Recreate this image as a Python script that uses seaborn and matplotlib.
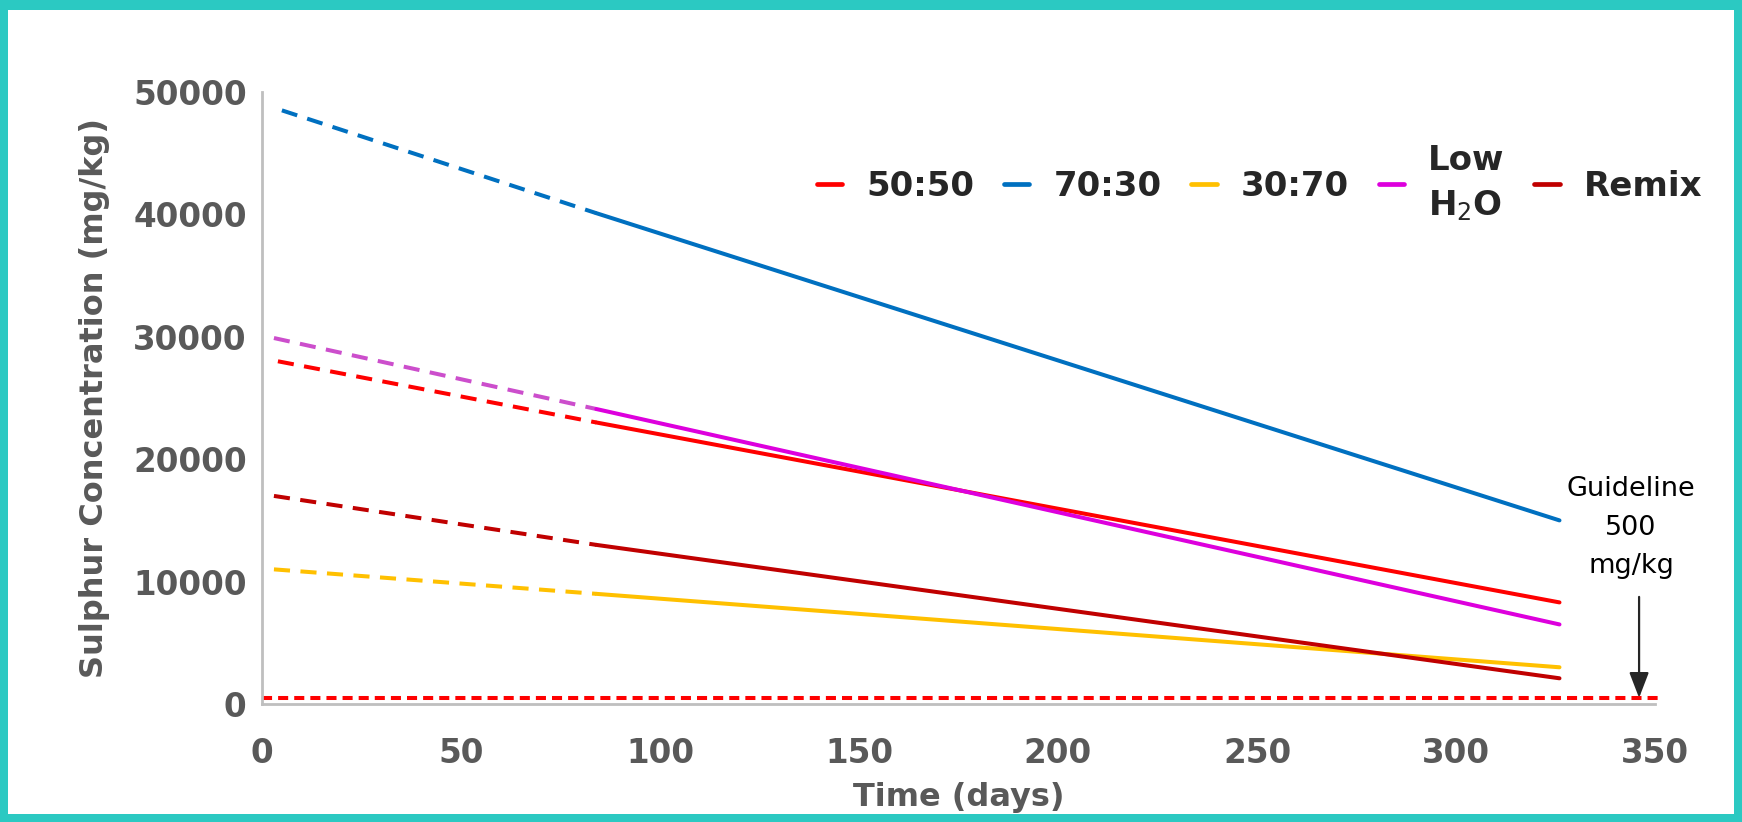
import matplotlib
matplotlib.use("Agg")
import matplotlib.pyplot as plt
import matplotlib.patches as mpatches
from matplotlib.lines import Line2D
import seaborn as sns
import pandas as pd

sns.set_theme(style="white")
plt.rcParams["font.family"] = ["DejaVu Sans"]

# Mixture series and their trend values (mg/kg)
series = ["50:50", "70:30", "30:70", "Low H2O", "Remix"]
legend_labels = ["50:50", "70:30", "30:70", "Low\nH$_2$O", "Remix"]
start_day = [4, 5, 3, 3, 3]
start_conc = [28000, 48500, 11000, 29900, 17000]
mid_day = [84, 84, 84, 84, 84]
mid_conc = [23000, 40100, 9000, 24100, 13000]
end_day = [326, 326, 326, 326, 326]
end_conc = [8300, 15000, 3000, 6500, 2100]

solid_colors = ["#FF0000", "#0070C0", "#FFC000", "#DD00DD", "#C00000"]
dashed_colors = ["#FF0000", "#0070C0", "#FFC000", "#CC4ECC", "#C00000"]

guideline_days = [0, 352]
guideline_conc = [500, 500]

x_ticks = [0, 50, 100, 150, 200, 250, 300, 350]
y_ticks = [0, 10000, 20000, 30000, 40000, 50000]

W, H = 1742, 822
fig = plt.figure(figsize=(W / 100, H / 100), dpi=100)
fig.patch.set_facecolor("#2BC9C2")
fig.patches.append(mpatches.Rectangle((8 / W, 8 / H), 1 - 16 / W, 1 - 18 / H,
                                      transform=fig.transFigure, facecolor="white",
                                      edgecolor="none", zorder=-1))

ax = fig.add_axes([262 / W, 118 / H, (1655 - 262) / W, (704 - 92) / H])
ax.set_facecolor("none")

lw = 2.9
for i, name in enumerate(series):
    ext = pd.DataFrame({"day": [start_day[i], mid_day[i]],
                        "conc": [start_conc[i], mid_conc[i]]})
    fit = pd.DataFrame({"day": [mid_day[i], end_day[i]],
                        "conc": [mid_conc[i], end_conc[i]]})
    sns.lineplot(data=ext, x="day", y="conc", ax=ax, color=dashed_colors[i],
                 linewidth=lw, estimator=None, sort=False,
                 linestyle=(0, (4.0, 2.6)), solid_capstyle="butt")
    sns.lineplot(data=fit, x="day", y="conc", ax=ax, color=solid_colors[i],
                 linewidth=lw, estimator=None, sort=False)

gl = pd.DataFrame({"day": guideline_days, "conc": guideline_conc})
sns.lineplot(data=gl, x="day", y="conc", ax=ax, color="#FF0000", linewidth=lw,
             estimator=None, linestyle=(0, (2.5, 1.5)))
for ln in ax.lines:
    ln.set_clip_on(False)

ax.text(344, 14400, "Guideline\n500\nmg/kg", ha="center", va="center",
        fontsize=19.5, color="black", linespacing=1.62)
ax.annotate("", xy=(346, 500), xytext=(346, 8750),
            arrowprops=dict(arrowstyle="-|>,head_width=0.5,head_length=1.3",
                            color="#262626", lw=1.6, shrinkA=0, shrinkB=0),
            annotation_clip=False)

ax.set_xlim(0, 350)
ax.set_ylim(0, 50000)
ax.set_xticks(x_ticks)
ax.set_yticks(y_ticks)
ax.set_xticklabels([str(t) for t in x_ticks])
ax.set_yticklabels([str(t) for t in y_ticks])
ax.tick_params(axis="both", length=0, labelsize=23.5, labelcolor="#595959")
ax.tick_params(axis="x", pad=24)
ax.tick_params(axis="y", pad=11)
for lab in ax.get_xticklabels() + ax.get_yticklabels():
    lab.set_fontweight("bold")

for side in ["top", "right"]:
    ax.spines[side].set_visible(False)
for side in ["left", "bottom"]:
    ax.spines[side].set_color("#BFBFBF")
    ax.spines[side].set_linewidth(2)

ax.set_xlabel("Time (days)", fontsize=23, fontweight="bold", color="#595959")
ax.set_ylabel("Sulphur Concentration (mg/kg)", fontsize=23, fontweight="bold",
              color="#595959")
ax.xaxis.label.set_va("center")
ax.yaxis.label.set_va("center")
ax.xaxis.set_label_coords(0.5, -0.152)
ax.yaxis.set_label_coords(-0.1206, 0.5)

handles = [Line2D([0], [0], color=c, linewidth=3.4) for c in solid_colors]
leg = fig.legend(handles, legend_labels, loc="center", ncol=5,
                 bbox_to_anchor=(0.723, 0.777), frameon=False,
                 prop={"size": 24.5, "weight": "bold"}, handlelength=0.75,
                 handletextpad=0.7, columnspacing=0.88)
for t in leg.get_texts():
    t.set_linespacing(1.4)

fig.savefig("out.png", dpi=100)
